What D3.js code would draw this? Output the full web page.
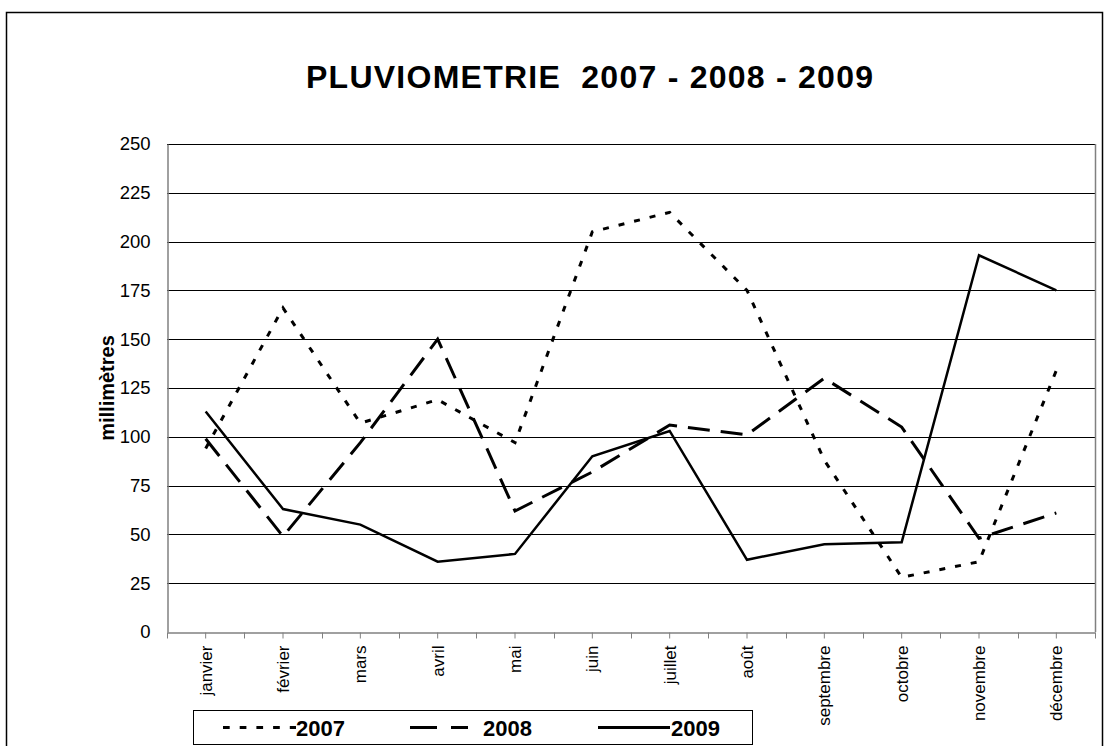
<!DOCTYPE html>
<html>
<head>
<meta charset="utf-8">
<script src="https://cdn.jsdelivr.net/npm/d3@7"></script>
<style>
  html, body { margin: 0; padding: 0; background: #fff; }
  svg { display: block; font-family: "Liberation Sans", Arial, sans-serif; }
</style>
</head>
<body>
<svg id="chart" width="1110" height="746"></svg>
<script>
const months = ["janvier","février","mars","avril","mai","juin","juillet","août","septembre","octobre","novembre","décembre"];
const values2007 = [94,166,107,119,97,205,215,175,88,28,36,134];
const values2008 = [99,49,97,150,62,82,106,101,130,105,48,61];
const values2009 = [113,63,55,36,40,90,103,37,45,46,193,175];
const seriesNames = ["2007","2008","2009"];
const yTicks = [0,25,50,75,100,125,150,175,200,225,250];
const titleText = "PLUVIOMETRIE  2007 - 2008 - 2009";
const yLabel = "millimètres";

(function () {
const svg = d3.select("#chart");
const pLeft = 167, pRight = 1095, pTop = 144, pBottom = 632;

// outer frame
svg.append("rect").attr("x", 6.5).attr("y", 12.5).attr("width", 1096).attr("height", 760)
  .attr("fill", "none").attr("stroke", "#000").attr("stroke-width", 1.5);

const x = d3.scaleBand().domain(months).range([pLeft, pRight]);
const y = d3.scaleLinear().domain([0, 250]).range([pBottom, pTop]);

// gridlines
svg.append("g").selectAll("line").data(yTicks.filter(t => t > 0)).join("line")
  .attr("x1", pLeft).attr("x2", pRight)
  .attr("y1", d => Math.round(y(d)) + 0.5).attr("y2", d => Math.round(y(d)) + 0.5)
  .attr("stroke", "#000").attr("stroke-width", 1);

// right border
svg.append("line").attr("x1", pRight + 0.5).attr("x2", pRight + 0.5).attr("y1", pTop).attr("y2", pBottom)
  .attr("stroke", "#808080").attr("stroke-width", 1.5);

// y axis
const yAxis = svg.append("g").attr("transform", `translate(${pLeft + 0.5},0)`)
  .call(d3.axisLeft(y).tickValues(yTicks).tickSize(0).tickPadding(17));
yAxis.select(".domain").attr("stroke", "#808080").attr("stroke-width", 1.5);
yAxis.selectAll("text").attr("font-size", 18.5).attr("fill", "#000")
  .attr("font-family", "'Liberation Sans', Arial, sans-serif");

// x axis
const xAxis = svg.append("g").attr("transform", `translate(0,${pBottom + 0.5})`)
  .call(d3.axisBottom(x).tickSize(6).tickSizeOuter(0));
xAxis.select(".domain").attr("stroke", "#808080").attr("stroke-width", 1.5);
xAxis.selectAll(".tick line").attr("stroke", "#808080");
xAxis.selectAll("text")
  .attr("transform", "rotate(-90)")
  .attr("x", -13).attr("y", 0).attr("dy", "0.35em")
  .attr("text-anchor", "end")
  .attr("font-size", 17).attr("fill", "#000")
  .attr("font-family", "'Liberation Sans', Arial, sans-serif");
// boundary ticks
const bounds = months.map(m => x(m)).concat([pRight]);
xAxis.append("g").selectAll("line").data(bounds).join("line")
  .attr("x1", d => Math.round(d) + 0.5).attr("x2", d => Math.round(d) + 0.5)
  .attr("y1", 0).attr("y2", 6).attr("stroke", "#808080");

// lines
const line = d3.line().x((d, i) => x(months[i]) + x.bandwidth() / 2).y(d => y(d));
const styles = [
  { data: values2007, dash: "6,10", width: 3 },
  { data: values2008, dash: "22,11", width: 3 },
  { data: values2009, dash: null, width: 2.5 }
];
styles.forEach(s => {
  svg.append("path").datum(s.data).attr("d", line)
    .attr("fill", "none").attr("stroke", "#000").attr("stroke-width", s.width)
    .attr("stroke-dasharray", s.dash).attr("stroke-linejoin", "miter");
});

// title
svg.append("text").attr("x", 589.5).attr("y", 88).attr("text-anchor", "middle")
  .attr("font-size", 32).attr("font-weight", "bold").attr("fill", "#000")
  .attr("textLength", 567).attr("lengthAdjust", "spacing")
  .style("white-space", "pre").attr("xml:space", "preserve")
  .text(titleText);

// y label
svg.append("text").attr("transform", "translate(114,388) rotate(-90)")
  .attr("text-anchor", "middle").attr("font-size", 20).attr("font-weight", "bold")
  .attr("fill", "#000").text(yLabel);

// legend
const lg = svg.append("g");
lg.append("rect").attr("x", 193.5).attr("y", 710.5).attr("width", 559).attr("height", 34)
  .attr("fill", "#fff").attr("stroke", "#000").attr("stroke-width", 1);
const legendItems = [
  { name: seriesNames[0], x1: 223, x2: 296, tx: 296, dash: "6.7,10" },
  { name: seriesNames[1], x1: 410, x2: 468, tx: 483, dash: "27,14" },
  { name: seriesNames[2], x1: 598, x2: 670, tx: 671, dash: null }
];
legendItems.forEach(it => {
  lg.append("line").attr("x1", it.x1).attr("x2", it.x2).attr("y1", 727.5).attr("y2", 727.5)
    .attr("stroke", "#000").attr("stroke-width", 3).attr("stroke-dasharray", it.dash);
  lg.append("text").attr("x", it.tx).attr("y", 735.5).attr("font-size", 22)
    .attr("font-weight", "bold").attr("fill", "#000").text(it.name);
});
})();
</script>
</body>
</html>
